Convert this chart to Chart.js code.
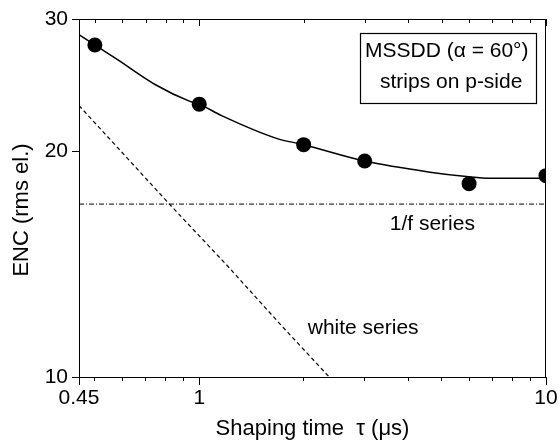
<!DOCTYPE html>
<html lang="en">
<head>
<meta charset="UTF-8">
<title>ENC vs shaping time</title>
<script src="https://cdn.jsdelivr.net/npm/chart.js"></script>
<style>
  html, body { margin: 0; padding: 0; background: #fff; }
  #wrap { width: 560px; height: 445px; }
</style>
</head>
<body>
<div id="wrap"><canvas id="encChart"></canvas></div>
<script>
// measured ENC points
const tauMeas = [0.5, 1, 2, 3, 6, 10];
const encMeas = [27.7, 23.1, 20.4, 19.4, 18.1, 18.55];

// fitted curve
const tauFit = [0.45, 0.5, 0.58, 0.75, 0.94, 1, 1.16, 1.67, 2, 3, 4.63, 5.9, 6.9, 10];
const encFit = [28.6, 27.7, 26.5, 24.5, 23.3, 23.1, 22.3, 20.8, 20.4, 19.4, 18.75, 18.5, 18.4, 18.4];

// 1/f series contribution
const tauFlick = [0.45, 10];
const encFlick = [17.0, 17.0];

// white series contribution
const tauWhite = [0.45, 0.6, 0.82, 1.2, 1.7, 2.37];
const encWhite = [23.0, 19.9, 17.0, 14.1, 11.8, 10.0];

// axis ticks
const xTickVals = [0.45, 0.5, 0.6, 0.7, 0.8, 0.9, 1, 2, 3, 4, 5, 6, 7, 8, 9, 10];
const xTickLabels = [0.45, 1, 10];
const yTickVals = [10, 20, 30];

const FONT = "'Liberation Sans', Arial, sans-serif";

function pts(xs, ys) {
    return xs.map((x, i) => ({ x: x, y: ys[i] }));
}

// frame, inner ticks on top edge, y title, annotation box and series labels
const decorations = {
    id: 'decorations',
    afterDraw(chart) {
        const ctx = chart.ctx;
        const a = chart.chartArea;
        const xs = chart.scales.x;
        const ys = chart.scales.y;
        ctx.save();
        ctx.strokeStyle = '#000';
        ctx.lineWidth = 1;
        ctx.beginPath();
        ctx.moveTo(a.left, a.top + 0.5);
        ctx.lineTo(a.right, a.top + 0.5);
        ctx.moveTo(a.right - 0.5, a.top);
        ctx.lineTo(a.right - 0.5, a.bottom);
        xTickVals.forEach(v => {
            const px = Math.round(xs.getPixelForValue(v)) + 0.5;
            const major = v === 1 || v === 10;
            ctx.moveTo(px, a.top);
            ctx.lineTo(px, a.top + (major ? 7 : 4));
            if (major || v === 0.45) {
                ctx.moveTo(px, a.bottom);
                ctx.lineTo(px, a.bottom + 8);
            }
        });
        ctx.stroke();

        ctx.fillStyle = '#000';
        ctx.textBaseline = 'middle';

        // y axis title
        ctx.save();
        ctx.translate(22, 210);
        ctx.rotate(-Math.PI / 2);
        ctx.textAlign = 'center';
        ctx.font = '22px ' + FONT;
        ctx.fillText('ENC (rms el.)', 0, 0);
        ctx.restore();

        // legend box
        ctx.lineWidth = 1.2;
        ctx.strokeRect(360.5, 33.5, 176, 70);
        ctx.font = '21px ' + FONT;
        ctx.textAlign = 'left';
        ctx.fillText('MSSDD (\u03B1 = 60\u00B0)', 365, 51);
        ctx.fillText('strips on p-side', 380, 82);

        // series labels
        ctx.textAlign = 'center';
        ctx.fillText('1/f series', xs.getPixelForValue(4.7), ys.getPixelForValue(16.0));
        ctx.fillText('white series', xs.getPixelForValue(2.97), ys.getPixelForValue(11.6));
        ctx.restore();
    }
};

new Chart(document.getElementById('encChart'), {
    type: 'scatter',
    data: {
        datasets: [
            {
                label: 'measured',
                data: pts(tauMeas, encMeas),
                showLine: false,
                pointRadius: 7.5,
                pointBackgroundColor: '#000',
                pointBorderColor: '#000',
                pointBorderWidth: 0
            },
            {
                label: 'fit',
                data: pts(tauFit, encFit),
                showLine: true,
                borderColor: '#000',
                borderWidth: 1.5,
                pointRadius: 0,
                cubicInterpolationMode: 'monotone'
            },
            {
                label: '1/f series',
                data: pts(tauFlick, encFlick),
                showLine: true,
                borderColor: '#000',
                borderWidth: 1,
                borderDash: [5, 2, 1, 2],
                pointRadius: 0
            },
            {
                label: 'white series',
                data: pts(tauWhite, encWhite),
                showLine: true,
                borderColor: '#000',
                borderWidth: 1.2,
                borderDash: [4, 3],
                pointRadius: 0
            }
        ]
    },
    options: {
        responsive: true,
        maintainAspectRatio: false,
        animation: false,
        layout: { padding: { top: 19, right: 14, left: 0, bottom: 0 } },
        plugins: {
            legend: { display: false },
            tooltip: { enabled: false }
        },
        scales: {
            x: {
                type: 'logarithmic',
                min: 0.45,
                max: 10,
                afterBuildTicks: s => { s.ticks = xTickVals.map(v => ({ value: v })); },
                afterFit: s => { s.height = 68; s.paddingLeft = 0; s.paddingRight = 0; },
                ticks: {
                    autoSkip: false,
                    maxRotation: 0,
                    padding: 5,
                    color: '#000',
                    font: { family: FONT, size: 21 },
                    callback: v => xTickLabels.includes(v) ? String(v) : ''
                },
                grid: { drawOnChartArea: false, tickLength: 4, color: '#000' },
                border: { color: '#000', width: 1 },
                title: {
                    display: true,
                    text: 'Shaping time  \u03C4 (\u03BCs)',
                    color: '#000',
                    font: { family: FONT, size: 22 },
                    padding: { top: 0, bottom: 3 }
                }
            },
            y: {
                type: 'logarithmic',
                min: 10,
                max: 30,
                afterBuildTicks: s => { s.ticks = yTickVals.map(v => ({ value: v })); },
                afterFit: s => { s.width = 79; s.paddingTop = 0; s.paddingBottom = 0; },
                ticks: {
                    padding: 4,
                    color: '#000',
                    font: { family: FONT, size: 21 },
                    callback: v => String(v)
                },
                grid: { drawOnChartArea: false, tickLength: 7, color: '#000' },
                border: { color: '#000', width: 1 }
            }
        }
    },
    plugins: [decorations]
});
</script>
</body>
</html>
